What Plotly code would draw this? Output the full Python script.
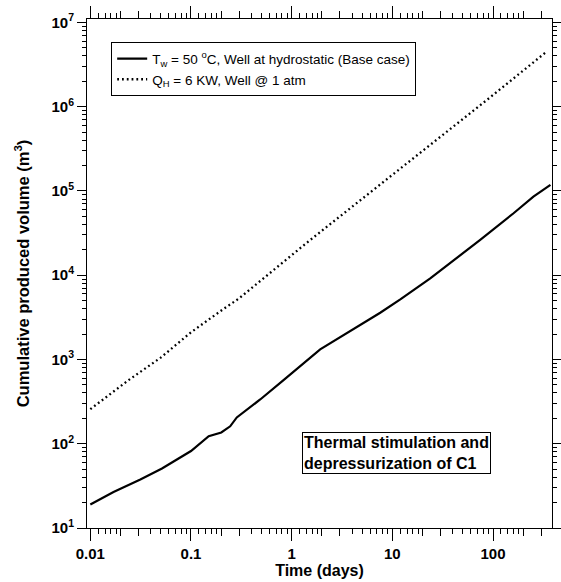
import numpy as np
import plotly.graph_objects as go

# Data
t_base = [0.01, 0.017, 0.0314, 0.0515, 0.1, 0.124, 0.15, 0.2, 0.245, 0.285,
          0.487, 0.83, 1.92, 7.58, 12, 23.8, 74.6, 160, 252, 372]
v_base = [19.0, 26.8, 37.6, 50.8, 82, 102, 123, 136, 161, 205,
          335, 569, 1318, 3583, 5170, 9190, 26200, 54300, 85700, 118000]

t_heat = [0.01, 0.024, 0.05, 0.1, 0.208, 0.3, 1.53, 7.88, 86.9, 343]
v_heat = [257, 569, 1050, 2100, 3935, 5300, 26200, 123600, 1.2e6, 4.52e6]

name_base = "T<sub>w</sub> = 50 <sup>o</sup>C, Well at hydrostatic (Base case)"
name_heat = "Q<sub>H</sub> = 6 KW, Well @ 1 atm"

x_ticks = [0.01, 0.1, 1, 10, 100]
x_ticktext = ["0.01", "0.1", "1", "10", "100"]
y_ticks = [1e1, 1e2, 1e3, 1e4, 1e5, 1e6, 1e7]
y_ticktext = ["10<sup>%d</sup>" % i for i in range(1, 8)]

FONT = "Liberation Sans, Arial, Helvetica, sans-serif"

decades_x = [1e-3, 1e-2, 1e-1, 1, 10, 100]
x_minor = [d * m for d in decades_x for m in (1.2, 1.4, 1.6, 1.8, 4, 5, 6, 7, 8, 9)]
x_mid = [d * m for d in decades_x for m in (2, 3)]
decades_y = [1, 10, 100, 1e3, 1e4, 1e5, 1e6, 1e7]
y_minor = [d * m for d in decades_y for m in range(2, 10)]

fig = go.Figure()
fig.add_trace(go.Scatter(x=t_base, y=v_base, mode="lines", name=name_base,
                         line=dict(color="black", width=2.2)))
fig.add_trace(go.Scatter(x=t_heat, y=v_heat, mode="lines", name=name_heat,
                         line=dict(color="black", width=2.3, dash="1.8px,3px")))

fig.update_layout(
    width=561, height=582,
    margin=dict(l=87, r=9, t=19, b=54),
    paper_bgcolor="white", plot_bgcolor="white",
    font=dict(family=FONT, color="black"),
    showlegend=True,
    legend=dict(x=0.052, y=0.954, xanchor="left", yanchor="top",
                bordercolor="black", borderwidth=1, bgcolor="white",
                font=dict(family=FONT, size=13.5, color="black"),
                itemwidth=30, tracegroupgap=0),
    xaxis=dict(type="log", range=[-2.033, 2.586], automargin=False,
               tickmode="array", tickvals=x_ticks, ticktext=x_ticktext,
               tickfont=dict(family=FONT, size=15, weight="bold"),
               ticks="outside", ticklen=12, tickwidth=1, tickcolor="black",
               showline=True, linecolor="black", linewidth=1, mirror="ticks",
               showgrid=False, zeroline=False,
               minor=dict(tickmode="array", tickvals=x_minor, ticks="outside",
                          ticklen=5, tickwidth=1, tickcolor="black", showgrid=False),
               title=dict(text="Time (days)", standoff=1,
                          font=dict(family=FONT, size=16, weight="bold"))),
    xaxis2=dict(type="log", range=[-2.033, 2.586], overlaying="x", side="bottom",
                matches="x", anchor="y", automargin=False,
                tickmode="array", tickvals=x_mid, showticklabels=False,
                ticks="outside", ticklen=7, tickwidth=1, tickcolor="black",
                showline=False, mirror="ticks", showgrid=False, zeroline=False),
    yaxis=dict(type="log", range=[1, 7.04], automargin=False,
               tickmode="array", tickvals=y_ticks, ticktext=y_ticktext,
               tickfont=dict(family=FONT, size=15, weight="bold"),
               ticks="outside", ticklen=9, tickwidth=1, tickcolor="black",
               showline=True, linecolor="black", linewidth=1, mirror="ticks",
               showgrid=False, zeroline=False,
               minor=dict(tickmode="array", tickvals=y_minor, ticks="outside",
                          ticklen=4, tickwidth=1, tickcolor="black", showgrid=False),
               title=dict(text="Cumulative produced volume (m<sup>3</sup>)", standoff=17,
                          font=dict(family=FONT, size=16.5, weight="bold"))),
)

# invisible trace to activate xaxis2 (mid-length tick marks)
fig.add_trace(go.Scatter(x=[t_base[0]], y=[v_base[0]], xaxis="x2", yaxis="y",
                         mode="markers", marker=dict(opacity=0), showlegend=False,
                         hoverinfo="skip"))

fig.add_annotation(
    xref="paper", yref="paper", x=0.666, y=0.147, xanchor="center", yanchor="middle",
    text="<b>Thermal stimulation and<br>depressurization of C1</b>",
    showarrow=False, align="left",
    font=dict(family=FONT, size=16, color="black"),
    bordercolor="black", borderwidth=1, borderpad=1, bgcolor="white")

fig.write_html("out.html", config={"displayModeBar": False},
               post_script="document.body.style.margin='0px';")
